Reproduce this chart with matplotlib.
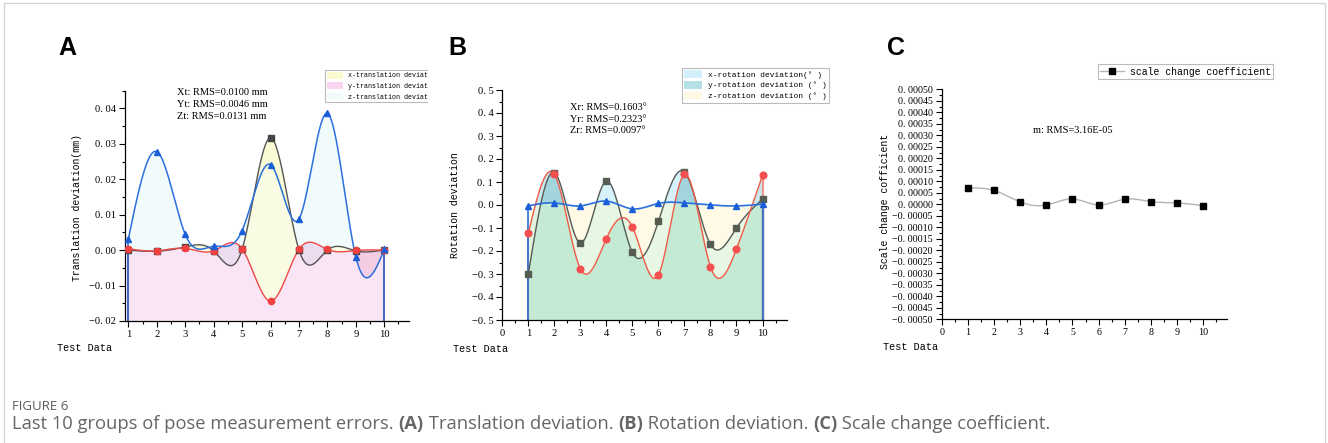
import numpy as np
import matplotlib
matplotlib.use("Agg")
import matplotlib.pyplot as plt
from matplotlib.patches import Rectangle, Patch
from matplotlib.lines import Line2D
from matplotlib.ticker import MultipleLocator, FuncFormatter
from matplotlib.transforms import Bbox, TransformedBbox

test_ids = [1, 2, 3, 4, 5, 6, 7, 8, 9, 10]

# A: translation deviation (mm)
xt = [0.0000, -0.0003, 0.0009, -0.0002, 0.0002, 0.0317, 0.0001, 0.0000, -0.0002, 0.0001]
yt = [0.0004, -0.0002, 0.0005, -0.0002, 0.0004, -0.0144, 0.0002, 0.0002, -0.0001, 0.0000]
zt = [0.0031, 0.0278, 0.0045, 0.0011, 0.0055, 0.0241, 0.0088, 0.0386, -0.0019, 0.0002]

# B: rotation deviation (deg)
xr = [-0.300, 0.141, -0.165, 0.104, -0.206, -0.071, 0.143, -0.171, -0.100, 0.025]
yr = [-0.123, 0.133, -0.277, -0.146, -0.096, -0.304, 0.133, -0.268, -0.191, 0.129]
zr = [-0.004, 0.009, -0.004, 0.017, -0.017, 0.007, 0.009, 0.000, -0.004, 0.004]

# C: scale change coefficient
scale = [0.0000706, 0.0000603, 0.0000103, -0.000003, 0.0000235,
         -0.000003, 0.000022, 0.0000118, 0.0000059, -0.0000059]

legend_a = ["x-translation deviation(mm)", "y-translation deviation(mm)", "z-translation deviation(mm)"]
legend_b = ["x-rotation deviation(\u00b0 )", "y-rotation deviation (\u00b0 )", "z-rotation deviation (\u00b0 )"]
rms_a = ["Xt: RMS=0.0100 mm", "Yt: RMS=0.0046 mm", "Zt: RMS=0.0131 mm"]
rms_b = ["Xr: RMS=0.1603\u00b0", "Yr: RMS=0.2323\u00b0", "Zr: RMS=0.0097\u00b0"]
rms_c = "m: RMS=3.16E-05"

W, H = 1328, 443
MONO = "Liberation Mono"
SERIF = "Liberation Serif"


def spline(x, y, num=1500):
    # natural cubic spline, like Origin's "Spline" connect
    x = np.asarray(x, float)
    y = np.asarray(y, float)
    n = len(x)
    h = np.diff(x)
    A = np.zeros((n, n))
    r = np.zeros(n)
    A[0, 0] = A[-1, -1] = 1
    for i in range(1, n - 1):
        A[i, i - 1] = h[i - 1]
        A[i, i] = 2 * (h[i - 1] + h[i])
        A[i, i + 1] = h[i]
        r[i] = 6 * ((y[i + 1] - y[i]) / h[i] - (y[i] - y[i - 1]) / h[i - 1])
    M = np.linalg.solve(A, r)
    xs = np.linspace(x[0], x[-1], num)
    idx = np.clip(np.searchsorted(x, xs) - 1, 0, n - 2)
    x0, x1 = x[idx], x[idx + 1]
    hh = x1 - x0
    t0, t1 = x1 - xs, xs - x0
    ys = (M[idx] * t0 ** 3 + M[idx + 1] * t1 ** 3) / (6 * hh) \
        + (y[idx] / hh - M[idx] * hh / 6) * t0 + (y[idx + 1] / hh - M[idx + 1] * hh / 6) * t1
    return xs, ys


def layered_fill(ax, xs, curves, bottom, only, pair, under_all):
    C = np.vstack(curves)
    order = np.argsort(C, axis=0)
    lo, mid, hi = np.sort(C, axis=0)
    for k in range(3):
        ax.fill_between(xs, bottom, hi, where=order[2] == k, interpolate=True,
                        color=only[k], lw=0, zorder=1)
    for k in range(3):
        ax.fill_between(xs, bottom, mid, where=order[0] == k, interpolate=True,
                        color=pair[k], lw=0, zorder=1.1)
    ax.fill_between(xs, bottom, lo, color=under_all, lw=0, zorder=1.2)


def fmt(dec):
    def f(v, pos):
        s = f"{abs(v):.{dec}f}".replace(".", ". ")
        return ("\u2212" + s) if v < -1e-12 else s
    return FuncFormatter(f)


def style_axis(ax, size=7.6):
    for s in ["top", "right"]:
        ax.spines[s].set_visible(False)
    for s in ["left", "bottom"]:
        ax.spines[s].set_linewidth(0.9)
    ax.tick_params(which="both", direction="out", width=0.8, labelsize=size, pad=2.5,
                   labelfontfamily=SERIF)
    ax.tick_params(which="major", length=4)
    ax.tick_params(which="minor", length=2)


def px(x0, y0, x1, y1):
    return [x0 / W, 1 - y1 / H, (x1 - x0) / W, (y1 - y0) / H]


fig = plt.figure(figsize=(W / 100, H / 100), dpi=100)
fig.patches.append(Rectangle((4 / W, -0.1), (1325 - 4) / W, 1.1 - 3 / H, transform=fig.transFigure,
                             fill=False, edgecolor="#d4d4d4", lw=1.0))

# ---------------- A ----------------
ax = fig.add_axes(px(125.3, 90.7, 409, 321))
xs, bx = spline(test_ids, xt)
_, ry = spline(test_ids, yt)
_, bz = spline(test_ids, zt)
layered_fill(ax, xs, [bx, ry, bz], -0.02,
             only=["#fafad4", "#f8e0f2", "#f2fbfc"],
             pair=["#ecdcef", "#f9fbe2", "#f3cde3"],
             under_all="#f9e5f5")
cols_a = ["#555555", "#f04848", "#2b6fdc"]
for vals, c in zip([xt, yt, zt], cols_a):
    ax.vlines(test_ids[0], -0.02, vals[0], color=c, lw=1.2, zorder=2)
    ax.vlines(test_ids[-1], -0.02, vals[-1], color=c, lw=1.2, zorder=2)
ax.plot(xs, bx, color="#555555", lw=1.0, zorder=3)
ax.plot(xs, ry, color="#f04848", lw=1.0, zorder=3)
ax.plot(xs, bz, color="#2b6fdc", lw=1.1, zorder=3)
ax.plot(test_ids, xt, "s", color="#444444", ms=4.2, zorder=4)
ax.plot(test_ids, yt, "o", color="#f04040", ms=4.5, zorder=4)
ax.plot(test_ids, zt, "^", color="#1a5fd8", ms=5, zorder=5)
ax.set_xlim(0.894, 10.87)
ax.set_ylim(-0.02, 0.045)
ax.xaxis.set_major_locator(MultipleLocator(1))
ax.xaxis.set_minor_locator(MultipleLocator(0.5))
ax.yaxis.set_major_locator(MultipleLocator(0.01))
ax.yaxis.set_minor_locator(MultipleLocator(0.005))
ax.yaxis.set_major_formatter(fmt(2))
style_axis(ax)
for i, t in enumerate(rms_a):
    fig.text(176.7 / W, 1 - (92.7 + 12 * i) / H, t, family=SERIF, fontsize=7.5, va="center")
hs = [Patch(facecolor=c, edgecolor="none") for c in ["#fbf9cf", "#f9d3ef", "#f0fbfc"]]
leg = ax.legend(hs, legend_a, loc="upper left", bbox_to_anchor=(325 / W, 1 - 70 / H),
                bbox_transform=fig.transFigure, prop={"family": MONO, "size": 4.8},
                frameon=True, fancybox=False, edgecolor="#aaaaaa", borderpad=0.25,
                labelspacing=0.45, handlelength=2.4, handleheight=1.2, handletextpad=0.8,
                borderaxespad=0)
leg.get_frame().set_linewidth(0.8)
clip = TransformedBbox(Bbox([[0, 0], [428 / W, 1]]), fig.transFigure)
leg.legendPatch.set_clip_box(clip)
for t in leg.get_texts():
    t.set_clip_box(clip)
    t.set_clip_on(True)

# ---------------- B ----------------
ax = fig.add_axes(px(502.3, 90, 786.7, 320))
xs, cx = spline(test_ids, xr)
_, cy = spline(test_ids, yr)
_, cz = spline(test_ids, zr)
layered_fill(ax, xs, [cx, cy, cz], -0.5,
             only=["#d6f1fa", "#c8e9ee", "#fefae6"],
             pair=["#e0f4e0", "#e8f7e3", "#a3d5dd"],
             under_all="#c5ead3")
cols_b = ["#5a5a5a", "#f08070", "#2b6fdc"]
for vals, c in zip([xr, yr, zr], cols_b):
    ax.vlines(test_ids[0], -0.5, vals[0], color=c, lw=1.2, zorder=2)
    ax.vlines(test_ids[-1], -0.5, vals[-1], color=c, lw=1.6, alpha=0.8, zorder=2)
ax.plot(xs, cx, color="#555a55", lw=1.0, zorder=3)
ax.plot(xs, cy, color="#f05a48", lw=1.0, zorder=3)
ax.plot(xs, cz, color="#2b6fdc", lw=1.2, zorder=3)
ax.plot(test_ids, xr, "s", color="#555d52", ms=4.2, zorder=4)
ax.plot(test_ids, yr, "o", color="#f45050", ms=4.8, zorder=4)
ax.plot(test_ids, zr, "^", color="#1a5fd8", ms=5, zorder=5)
ax.set_xlim(0, 10.93)
ax.set_ylim(-0.5, 0.5)
ax.xaxis.set_major_locator(MultipleLocator(1))
ax.xaxis.set_minor_locator(MultipleLocator(0.5))
ax.yaxis.set_major_locator(MultipleLocator(0.1))
ax.yaxis.set_minor_locator(MultipleLocator(0.05))
ax.yaxis.set_major_formatter(fmt(1))
style_axis(ax)
for i, t in enumerate(rms_b):
    fig.text(570 / W, 1 - (107.3 + 11.8 * i) / H, t, family=SERIF, fontsize=7.5, va="center")
hs = [Patch(facecolor=c, edgecolor="none") for c in ["#d3f0fa", "#b5e0e6", "#fef9e2"]]
leg = ax.legend(hs, legend_b, loc="upper left", bbox_to_anchor=(681.7 / W, 1 - 67.7 / H),
                bbox_transform=fig.transFigure, prop={"family": MONO, "size": 5.7},
                frameon=True, fancybox=False, edgecolor="#aaaaaa", borderpad=0.3,
                labelspacing=0.3, handlelength=2.3, handleheight=1.1, handletextpad=0.7,
                borderaxespad=0)
leg.get_frame().set_linewidth(0.8)

# ---------------- C ----------------
ax = fig.add_axes(px(941.7, 89.3, 1226.7, 319.3))
xs, sc = spline(test_ids, scale)
ax.plot(xs, sc, color="#b4b4b4", lw=1.0, zorder=3)
ax.plot(test_ids, scale, "s", color="black", ms=4.2, zorder=4)
ax.set_xlim(0, 10.9)
ax.set_ylim(-0.0005, 0.0005)
ax.xaxis.set_major_locator(MultipleLocator(1))
ax.xaxis.set_minor_locator(MultipleLocator(0.5))
ax.yaxis.set_major_locator(MultipleLocator(0.00005))
ax.yaxis.set_minor_locator(MultipleLocator(0.000025))
ax.yaxis.set_major_formatter(fmt(5))
style_axis(ax, size=7.2)
fig.text(1073 / W, 1 - 130 / H, rms_c, family=SERIF, fontsize=7.5, ha="center", va="center")
h = Line2D([], [], color="#b4b4b4", lw=1.0, marker="s", mfc="black", mec="black", ms=4.2)
leg = ax.legend([h], ["scale change coefficient"], loc="upper left",
                bbox_to_anchor=(1097.7 / W, 1 - 64.3 / H), bbox_transform=fig.transFigure,
                prop={"family": MONO, "size": 7.1}, frameon=True, fancybox=False,
                edgecolor="#aaaaaa", borderpad=0.25, handlelength=2.4, handletextpad=0.6,
                borderaxespad=0)
leg.get_frame().set_linewidth(0.8)

# axis labels
for xx, yy, t in [(77, 207.5, "Translation deviation(mm)"), (455, 205, "Rotation deviation"),
                  (885, 201.5, "Scale change cofficient")]:
    fig.text(xx / W, 1 - yy / H, t, family=MONO, fontsize=7.1, rotation=90,
             ha="center", va="center")
for xx, yy in [(57, 348), (453, 349), (883, 347)]:
    fig.text(xx / W, 1 - yy / H, "Test Data", family=MONO, fontsize=7.3, va="center")

# panel letters
for xx, t in [(58, "A"), (448, "B"), (887, "C")]:
    fig.text(xx / W, 1 - 55 / H, t, family="Liberation Sans", fontweight="bold",
             fontsize=18, va="baseline")

# caption
fig.text(12 / W, 1 - 406 / H, "FIGURE 6", family="Open Sans", fontsize=9.5,
         color="#5a5a5a", va="center")
parts = [("Last 10 groups of pose measurement errors. ", "normal"), ("(A)", "bold"),
         (" Translation deviation. ", "normal"), ("(B)", "bold"),
         (" Rotation deviation. ", "normal"), ("(C)", "bold"),
         (" Scale change coefficient.", "normal")]
fig.canvas.draw()
r = fig.canvas.get_renderer()
xpos = 12
for t, w in parts:
    tx = fig.text(xpos / W, 1 - 424 / H, t, family="Open Sans", fontsize=13.2,
                  fontweight=w, color="#666666", va="center")
    xpos += tx.get_window_extent(renderer=r).width

fig.savefig("out.png", dpi=100, facecolor="white")
